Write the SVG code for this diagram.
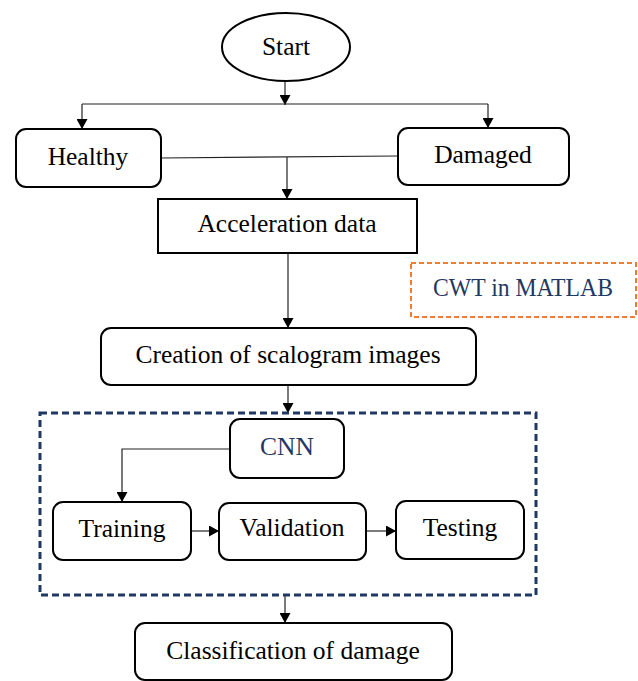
<svg xmlns="http://www.w3.org/2000/svg" width="638" height="681" viewBox="0 0 638 681">
<style>
.n{fill:#fff;stroke:#000;stroke-width:2}
.t{font-family:"Liberation Serif","Times New Roman",serif;font-size:25.5px;fill:#000;text-anchor:middle}
.b{fill:#1f3864}
.c{fill:none;stroke:#222;stroke-width:1.2}
</style>
<defs>
<marker id="a" viewBox="0 0 10 11" refX="10" refY="5.5" markerWidth="11" markerHeight="11" markerUnits="userSpaceOnUse" orient="auto"><path d="M0,0L10,5.5L0,11z" fill="#000"/></marker>
</defs>
<rect width="638" height="681" fill="#fff"/>
<g id="connectors">
<path class="c" d="M285,81V105" marker-end="url(#a)"/>
<path class="c" d="M82,104H488"/>
<path class="c" d="M82,104V129" marker-end="url(#a)"/>
<path class="c" d="M488,104V128" marker-end="url(#a)"/>
<path class="c" d="M161,158L398,156"/>
<path class="c" d="M287,157V199" marker-end="url(#a)"/>
<path class="c" d="M288,253V328" marker-end="url(#a)"/>
<path class="c" d="M288,385V413" marker-end="url(#a)"/>
<path class="c" d="M230,449H122V502" marker-end="url(#a)"/>
<path class="c" d="M191,531H219" marker-end="url(#a)"/>
<path class="c" d="M366,531H396" marker-end="url(#a)"/>
<path class="c" d="M285,595V623" marker-end="url(#a)"/>
</g>
<g id="start"><ellipse class="n" cx="286" cy="47" rx="64" ry="34"/><text class="t" x="286" y="55">Start</text></g>
<g id="healthy"><rect class="n" x="16" y="129" width="145" height="58" rx="10"/><text class="t" x="88" y="165">Healthy</text></g>
<g id="damaged"><rect class="n" x="398" y="128" width="171" height="57" rx="10"/><text class="t" x="483" y="163">Damaged</text></g>
<g id="accel"><rect class="n" x="158" y="199" width="259" height="54" stroke-width="2.5"/><text class="t" x="287" y="232">Acceleration data</text></g>
<g id="cwt"><rect x="411" y="263" width="225" height="54" fill="#fff" stroke="#ed7d31" stroke-width="2" stroke-dasharray="5,3"/><text class="t b" x="523" y="296" textLength="180" lengthAdjust="spacingAndGlyphs">CWT in MATLAB</text></g>
<g id="creation"><rect class="n" x="101" y="328" width="375" height="57" rx="10"/><text class="t" x="288" y="363">Creation of scalogram images</text></g>
<g id="cnnGroup"><rect x="40" y="413" width="496" height="182" fill="none" stroke="#1f3864" stroke-width="3" stroke-dasharray="7,4"/></g>
<g id="cnn"><rect class="n" x="230" y="419" width="114" height="59" rx="10"/><text class="t b" x="287" y="455">CNN</text></g>
<g id="training"><rect class="n" x="53" y="502" width="138" height="58" rx="10"/><text class="t" x="122" y="537">Training</text></g>
<g id="validation"><rect class="n" x="219" y="503" width="147" height="57" rx="10"/><text class="t" x="292" y="536">Validation</text></g>
<g id="testing"><rect class="n" x="396" y="501" width="128" height="58" rx="10"/><text class="t" x="460" y="536">Testing</text></g>
<g id="classification"><rect class="n" x="135" y="623" width="317" height="57" rx="10"/><text class="t" x="293" y="659">Classification of damage</text></g>
</svg>
